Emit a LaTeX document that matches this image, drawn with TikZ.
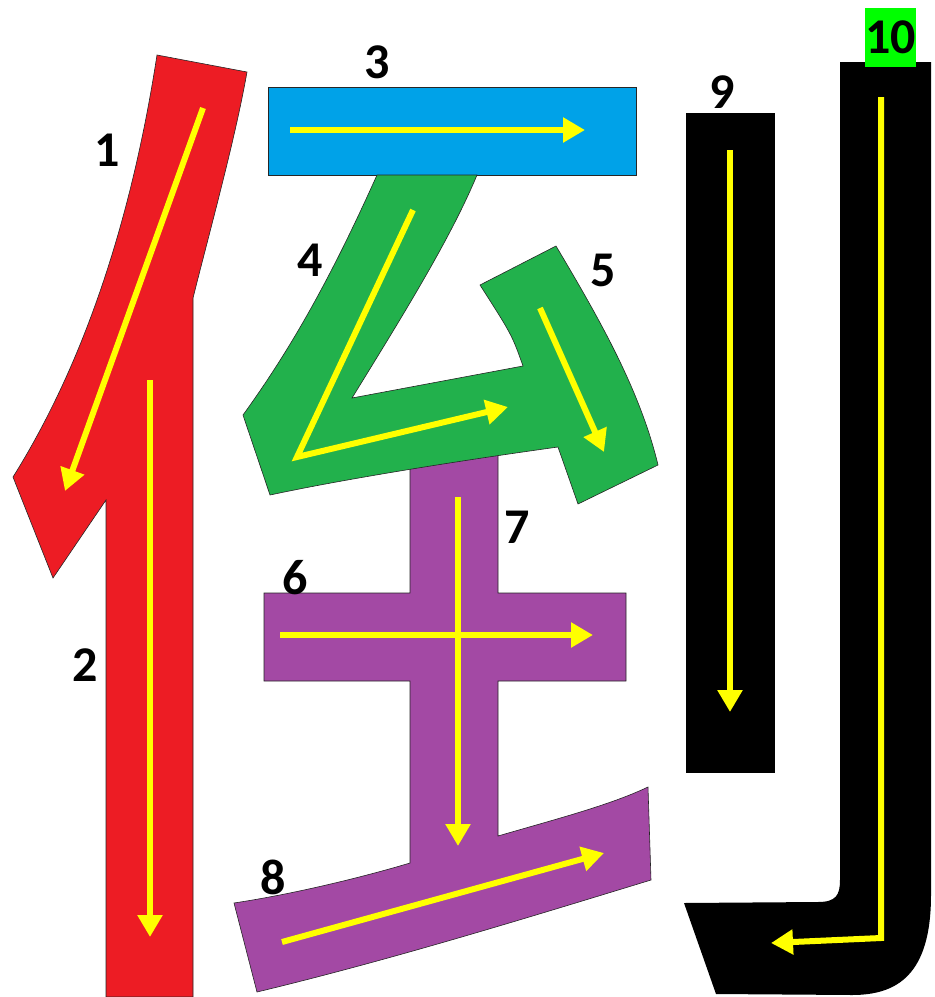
\documentclass[tikz,border=0pt]{standalone}
\usepackage{fontspec}
\setmainfont{Carlito}
\usetikzlibrary{arrows.meta}
\definecolor{partRed}{HTML}{ED1C24}
\definecolor{partBlue}{HTML}{00A2E8}
\definecolor{partGreen}{HTML}{22B14C}
\definecolor{partPurple}{HTML}{A349A4}
\definecolor{orderYellow}{HTML}{FFFF00}
\definecolor{lastGreen}{HTML}{00FF00}

\begin{document}
\begin{tikzpicture}[x=1pt, y=-1pt,
    glyphpart/.style={draw=black!85, line width=0.6pt, line join=miter},
    orderline/.style={draw=orderYellow, line width=6pt, -{Triangle[length=22pt, width=24pt]}},
    num/.style={font=\fontsize{50}{50}\selectfont\bfseries, text=black, inner sep=0pt}]
  \useasboundingbox (0,0) rectangle (935,997);

  % strokes 1 and 2
  \path[glyphpart, fill=partRed] (157,55) -- (247,72)
    .. controls (235,140) and (210,230) .. (193,298) -- (193,997) -- (106,997)
    -- (106,500) -- (53,578) -- (13,477)
    .. controls (80,370) and (130,230) .. (157,55) -- cycle;
  % stroke 3
  \path[glyphpart, fill=partBlue] (268,87) rectangle (636,175);
  % strokes 6, 7 and 8
  \path[glyphpart, fill=partPurple] (410,450) -- (498,450) -- (498,593) -- (626,593)
    -- (626,681) -- (498,681) -- (498,836)
    .. controls (560,818) and (610,805) .. (648,787) -- (651,880)
    .. controls (520,920) and (390,960) .. (257,992) -- (234,903)
    .. controls (300,893) and (370,875) .. (410,863)
    -- (410,681) -- (264,681) -- (264,593) -- (410,593) -- cycle;
  % strokes 4 and 5
  \path[glyphpart, fill=partGreen] (377,175) -- (477,175)
    .. controls (450,240) and (400,320) .. (352,398) -- (523,366)
    .. controls (512,335) .. (480,285) -- (556,246)
    .. controls (600,320) and (640,390) .. (658,465) -- (578,504) -- (558,447)
    .. controls (450,462) and (340,480) .. (270,495) -- (243,415)
    .. controls (290,350) and (330,280) .. (377,175) -- cycle;
  % strokes 9 and 10
  \path[fill=black] (686,113) rectangle (775,773);
  \path[fill=black] (840,62) -- (931,62) -- (931,895)
    .. controls (931,975) and (897,995) .. (852,995) -- (716,994) -- (684,903)
    -- (818,902) .. controls (836,902) and (840,895) .. (840,880) -- cycle;

  % stroke order
  \draw[orderline] (203,108) -- (65,491);
  \draw[orderline] (150,380) -- (150,937);
  \draw[orderline] (290,130) -- (585,130);
  \draw[orderline] (413,210) -- (297,457) -- (508,407);
  \draw[orderline] (540,308) -- (604,452);
  \draw[orderline] (280,635) -- (593,635);
  \draw[orderline] (458,497) -- (458,846);
  \draw[orderline] (282,942) -- (604,853);
  \draw[orderline] (730,150) -- (730,712);
  \draw[orderline] (881,97) -- (881,938) -- (771,943);

  \foreach \n/\pos in {1/{(107,150)}, 2/{(85,665)}, 3/{(377,62)}, 4/{(310,260)},
      5/{(603,270)}, 6/{(295,578)}, 7/{(517,527)}, 8/{(273,877)}, 9/{(722,92)}}{
    \node[num] (lab\n) at \pos {\n};
  }
  \node[num, fill=lastGreen, minimum width=49pt, minimum height=59pt] (lab10) at (890.5,37.5) {10};
\end{tikzpicture}
\end{document}
